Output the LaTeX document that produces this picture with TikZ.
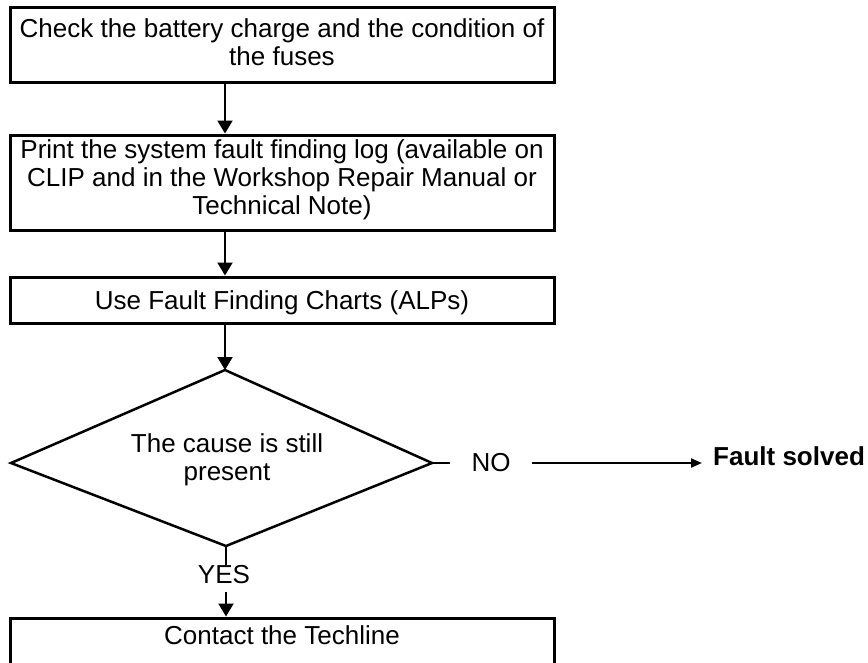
\documentclass[tikz,border=0pt]{standalone}
\usepackage{fontspec}
\setmainfont{Liberation Sans}
\usetikzlibrary{arrows.meta}
\begin{document}
\begin{tikzpicture}[x=1pt,y=-1pt,
  every node/.style={font=\fontsize{26}{28}\selectfont},
  box/.style={draw, line width=3pt, minimum width=544pt, inner xsep=0pt, inner ysep=0pt, align=center, anchor=base},
  arr/.style={line width=2pt, -{Triangle[length=13pt,width=15pt]}},
  arrs/.style={line width=2pt, -{Triangle[length=11pt,width=9pt]}},
  plain/.style={line width=2pt},
  lbl/.style={inner sep=0pt, anchor=base}]
\useasboundingbox (0,0) rectangle (868,662);
\clip (0,0) rectangle (868,662);

\node[box, text height=58pt, text depth=17pt] (b1) at (282,65)
  {Check the battery charge and the condition of\\the fuses};
\node[box, text height=79pt, text depth=16pt] (b2) at (282,214)
  {Print the system fault finding log (available on\\CLIP and in the Workshop Repair Manual or\\Technical Note)};
\node[box, text height=32pt, text depth=14pt] (b3) at (282,309)
  {Use Fault Finding Charts (ALPs)};
\node[box, text height=26pt, text depth=60pt] (b4) at (282,644)
  {Contact the Techline};

\coordinate (dT) at (225,370);
\coordinate (dR) at (432,463);
\coordinate (dB) at (226,546);
\coordinate (dL) at (11,463);
\draw[line width=2.5pt, line join=miter] (dT) -- (dR) -- (dB) -- (dL) -- cycle;
\node[lbl, align=center] (dtx) at (227,480) {The cause is still\\present};

\node[lbl, inner xsep=21pt] (no) at (491,471) {NO};
\node[lbl, inner xsep=11pt, anchor=base west, font=\fontsize{26}{28}\selectfont\bfseries] (fs) at (702,465) {Fault solved};
\node[lbl] (yes) at (224,583) {YES};

\draw[arr] (b1.south -| dT) -- (b2.north -| dT);
\draw[arr] (b2.south -| dT) -- (b3.north -| dT);
\draw[arr] (b3.south -| dT) -- (dT);
\draw[plain] (dR) -- (no.west |- dR);
\draw[arrs] (no.east |- dR) -- (fs.west |- dR);
\draw[plain] (dB) -- (dB |- yes.north);
\draw[arr, shorten <=9pt] (yes.south -| dB) -- (b4.north -| dB);
\end{tikzpicture}
\end{document}
